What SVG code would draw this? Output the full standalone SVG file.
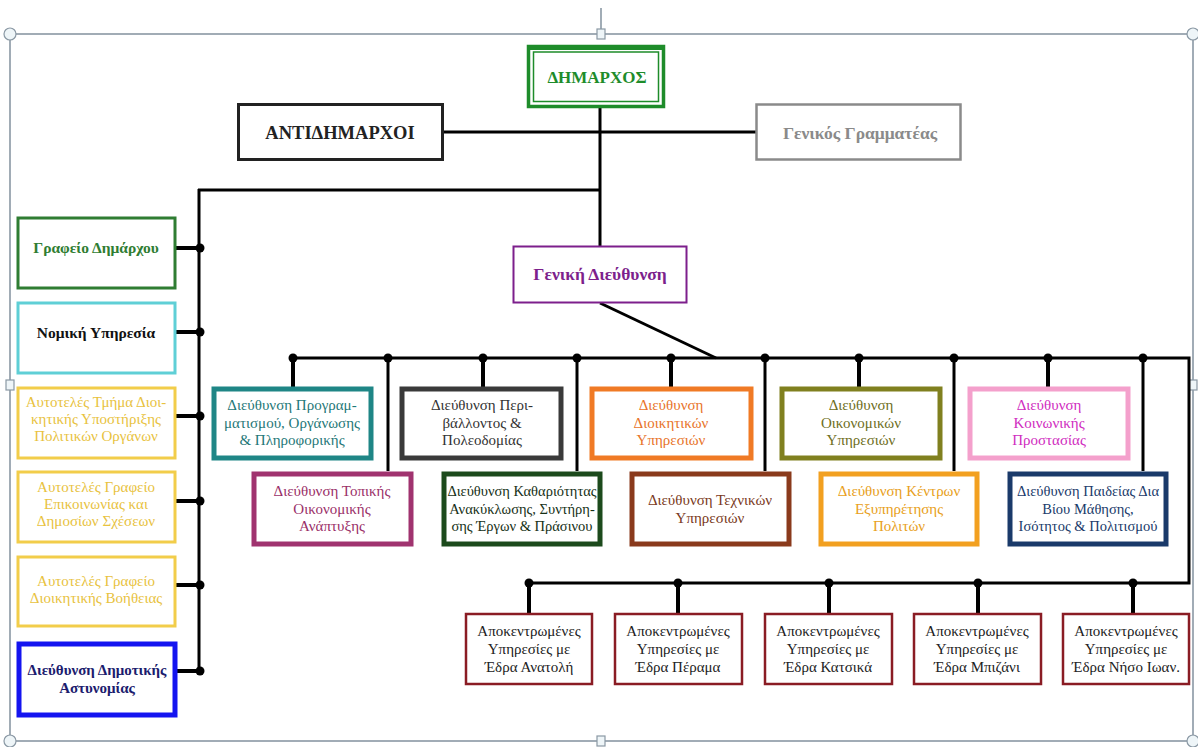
<svg xmlns="http://www.w3.org/2000/svg" width="1198" height="747" viewBox="0 0 1198 747">
<style>
text{font-family:"Liberation Serif","Times New Roman",serif;text-anchor:middle}
.b{font-weight:bold}
.r{font-size:15px}
.box{fill:#fff}
.ln{stroke:#000;stroke-width:3;fill:none}
.st{stroke:#000;stroke-width:4;fill:none}
.frame{stroke:#8a98a4;stroke-width:1.6;fill:none}
.h{fill:#eef5f8;stroke:#8a98a4;stroke-width:1.2}
</style>
<rect width="1198" height="747" fill="#fff"/>
<g id="frame">
<line class="frame" x1="601" y1="8" x2="601" y2="34"/>
<rect class="frame" x="10" y="34" width="1183" height="707"/>
<circle class="h" cx="10" cy="34" r="6"/>
<circle class="h" cx="1193" cy="34" r="6"/>
<circle class="h" cx="10" cy="741" r="6"/>
<circle class="h" cx="1193" cy="741" r="6"/>
<rect class="h" x="597" y="29" width="8" height="10"/>
<rect class="h" x="597" y="736" width="8" height="10"/>
<rect class="h" x="6" y="380" width="8" height="10"/>
<rect class="h" x="1189" y="380" width="8" height="10"/>
</g>
<g id="connectors">
<line class="ln" x1="600" y1="106" x2="600" y2="246"/>
<line class="ln" x1="443" y1="132" x2="756" y2="132"/>
<line class="ln" x1="198" y1="190" x2="600" y2="190"/>
<line class="ln" x1="199" y1="189" x2="199" y2="671"/>
<g class="st">
<line x1="175" y1="248" x2="200" y2="248"/>
<line x1="175" y1="332" x2="200" y2="332"/>
<line x1="175" y1="416" x2="200" y2="416"/>
<line x1="175" y1="501" x2="200" y2="501"/>
<line x1="175" y1="585" x2="200" y2="585"/>
<line x1="177" y1="671" x2="200" y2="671"/>
</g>
<g fill="#000">
<circle cx="200" cy="248" r="4.5"/><circle cx="200" cy="332" r="4.5"/><circle cx="200" cy="416" r="4.5"/>
<circle cx="200" cy="501" r="4.5"/><circle cx="200" cy="585" r="4.5"/><circle cx="200" cy="671" r="4.5"/>
</g>
<line class="ln" x1="600" y1="303" x2="716" y2="358"/>
<polyline class="ln" points="293,358 1189,358 1189,583 529,583"/>
<g class="st">
<line x1="293" y1="358" x2="293" y2="387"/>
<line x1="483" y1="358" x2="483" y2="387"/>
<line x1="671" y1="358" x2="671" y2="387"/>
<line x1="859" y1="358" x2="859" y2="387"/>
<line x1="1048" y1="358" x2="1048" y2="387"/>
</g>
<g class="ln">
<line x1="388" y1="358" x2="388" y2="471"/>
<line x1="577" y1="358" x2="577" y2="471"/>
<line x1="765" y1="358" x2="765" y2="471"/>
<line x1="954" y1="358" x2="954" y2="471"/>
<line x1="1143" y1="358" x2="1143" y2="471"/>
</g>
<g fill="#000">
<circle cx="293" cy="358" r="4.5"/><circle cx="388" cy="358" r="4.5"/><circle cx="483" cy="358" r="4.5"/>
<circle cx="577" cy="358" r="4.5"/><circle cx="671" cy="358" r="4.5"/><circle cx="765" cy="358" r="4.5"/>
<circle cx="859" cy="358" r="4.5"/><circle cx="954" cy="358" r="4.5"/><circle cx="1048" cy="358" r="4.5"/>
<circle cx="1143" cy="358" r="4.5"/>
</g>
<g class="st">
<line x1="529" y1="583" x2="529" y2="613"/>
<line x1="678" y1="583" x2="678" y2="613"/>
<line x1="829" y1="583" x2="829" y2="613"/>
<line x1="978" y1="583" x2="978" y2="613"/>
<line x1="1133" y1="583" x2="1133" y2="613"/>
</g>
<g fill="#000">
<circle cx="529" cy="583" r="4.5"/><circle cx="678" cy="583" r="4.5"/><circle cx="829" cy="583" r="4.5"/>
<circle cx="978" cy="583" r="4.5"/><circle cx="1133" cy="583" r="4.5"/>
</g>
</g>

<g id="dimarxos">
<rect class="box" x="528.5" y="46.5" width="135" height="60" stroke="#1e8c2a" stroke-width="3.5"/>
<rect x="533.5" y="52" width="125" height="49.5" fill="none" stroke="#1e8c2a" stroke-width="1.5"/>
<line x1="530" y1="48.5" x2="662" y2="48.5" stroke="#1e8c2a" stroke-width="3"/>
<text class="b" x="597" y="83" font-size="17" fill="#1e8c2a">ΔΗΜΑΡΧΟΣ</text>
</g>
<g id="antidimarxoi">
<rect class="box" x="238.5" y="104.5" width="204" height="55" stroke="#222" stroke-width="3"/>
<text class="b" x="340" y="139" font-size="18.5" fill="#222">ΑΝΤΙΔΗΜΑΡΧΟΙ</text>
</g>
<g id="genikos">
<rect class="box" x="756.5" y="104.5" width="204" height="55" stroke="#8a8a8a" stroke-width="2.5"/>
<text class="b" x="860" y="139" font-size="17.5" fill="#8a8a8a">Γενικός Γραμματέας</text>
</g>
<g id="geniki-dieythynsi">
<rect class="box" x="513.5" y="246.5" width="173" height="56" stroke="#7d1f8c" stroke-width="2"/>
<text class="b" x="600" y="280" font-size="17.5" fill="#7d1f8c">Γενική Διεύθυνση</text>
</g>

<g id="grafeio-dimarxou">
<rect class="box" x="18" y="218" width="157" height="70" stroke="#2f7d32" stroke-width="3"/>
<text class="b" x="96" y="253" font-size="15.5" fill="#2f7d32">Γραφείο Δημάρχου</text>
</g>
<g id="nomiki">
<rect class="box" x="18" y="303" width="157" height="70" stroke="#5fcfd6" stroke-width="3"/>
<text class="b" x="96" y="338" font-size="15.5" fill="#111">Νομική  Υπηρεσία</text>
</g>
<g id="tmima-politikon">
<rect class="box" x="18" y="388" width="157" height="70" stroke="#f2cd4a" stroke-width="3"/>
<text class="r" x="96" y="407" fill="#e8c23e"><tspan x="96">Αυτοτελές Τμήμα Διοι-</tspan><tspan x="96" dy="17">κητικής Υποστήριξης</tspan><tspan x="96" dy="17">Πολιτικών Οργάνων</tspan></text>
</g>
<g id="grafeio-epikoinonias">
<rect class="box" x="18" y="472" width="157" height="70" stroke="#f2cd4a" stroke-width="3"/>
<text class="r" x="96" y="492" fill="#e8c23e"><tspan x="96">Αυτοτελές Γραφείο</tspan><tspan x="96" dy="17">Επικοινωνίας και</tspan><tspan x="96" dy="17">Δημοσίων Σχέσεων</tspan></text>
</g>
<g id="grafeio-voitheias">
<rect class="box" x="18" y="557" width="157" height="69" stroke="#f2cd4a" stroke-width="3"/>
<text class="r" x="96" y="586" fill="#e8c23e"><tspan x="96">Αυτοτελές Γραφείο</tspan><tspan x="96" dy="17">Διοικητικής Βοήθειας</tspan></text>
</g>
<g id="astynomia">
<rect class="box" x="19" y="644" width="156" height="71" stroke="#1414f0" stroke-width="5"/>
<text class="b" x="97" y="675" font-size="15" fill="#1c1c6e"><tspan x="97">Διεύθυνση Δημοτικής</tspan><tspan x="97" dy="18">Αστυνομίας</tspan></text>
</g>

<g id="d-programmatismou">
<rect class="box" x="214" y="389" width="157" height="69" stroke="#1f8686" stroke-width="5"/>
<text class="r" x="292" y="410" fill="#1f7878"><tspan x="292">Διεύθυνση Προγραμ-</tspan><tspan x="292" dy="17.5">ματισμού, Οργάνωσης</tspan><tspan x="292" dy="17.5">&amp; Πληροφορικής</tspan></text>
</g>
<g id="d-perivallontos">
<rect class="box" x="402" y="389" width="159" height="69" stroke="#3a3a3a" stroke-width="5"/>
<text class="r" x="482" y="410" fill="#333"><tspan x="482">Διεύθυνση Περι-</tspan><tspan x="482" dy="17.5">βάλλοντος &amp;</tspan><tspan x="482" dy="17.5">Πολεοδομίας</tspan></text>
</g>
<g id="d-dioikitikon">
<rect class="box" x="592" y="389" width="159" height="69" stroke="#f07a25" stroke-width="5"/>
<text class="r" x="671" y="410" fill="#e8742a"><tspan x="671">Διεύθυνση</tspan><tspan x="671" dy="17.5">Διοικητικών</tspan><tspan x="671" dy="17.5">Υπηρεσιών</tspan></text>
</g>
<g id="d-oikonomikon">
<rect class="box" x="782" y="389" width="158" height="69" stroke="#80801f" stroke-width="5"/>
<text class="r" x="861" y="410" fill="#6e6e1c"><tspan x="861">Διεύθυνση</tspan><tspan x="861" dy="17.5">Οικονομικών</tspan><tspan x="861" dy="17.5">Υπηρεσιών</tspan></text>
</g>
<g id="d-koinonikis">
<rect class="box" x="970" y="389" width="158" height="69" stroke="#f4a0cc" stroke-width="5"/>
<text class="r" x="1049" y="410" fill="#d02cc0"><tspan x="1049">Διεύθυνση</tspan><tspan x="1049" dy="17.5">Κοινωνικής</tspan><tspan x="1049" dy="17.5">Προστασίας</tspan></text>
</g>

<g id="d-topikis">
<rect class="box" x="254" y="474" width="157" height="70" stroke="#a0336f" stroke-width="5"/>
<text class="r" x="332" y="496" fill="#9a2f68"><tspan x="332">Διεύθυνση Τοπικής</tspan><tspan x="332" dy="17.5">Οικονομικής</tspan><tspan x="332" dy="17.5">Ανάπτυξης</tspan></text>
</g>
<g id="d-kathariotitas">
<rect class="box" x="444" y="474" width="156" height="70" stroke="#1c4a1c" stroke-width="5"/>
<text x="522" y="496" font-size="14.5" fill="#163016"><tspan x="522">Διεύθυνση Καθαριότητας</tspan><tspan x="522" dy="17.5">Ανακύκλωσης, Συντήρη-</tspan><tspan x="522" dy="17.5">σης Έργων &amp; Πράσινου</tspan></text>
</g>
<g id="d-texnikon">
<rect class="box" x="632" y="474" width="157" height="70" stroke="#8a3a1c" stroke-width="5"/>
<text class="r" x="710" y="505" fill="#7a3a22"><tspan x="710">Διεύθυνση Τεχνικών</tspan><tspan x="710" dy="18">Υπηρεσιών</tspan></text>
</g>
<g id="d-kentron">
<rect class="box" x="821" y="474" width="156" height="70" stroke="#f2a020" stroke-width="5"/>
<text class="r" x="899" y="496" fill="#e8a020"><tspan x="899">Διεύθυνση Κέντρων</tspan><tspan x="899" dy="17.5">Εξυπηρέτησης</tspan><tspan x="899" dy="17.5">Πολιτών</tspan></text>
</g>
<g id="d-paideias">
<rect class="box" x="1010" y="474" width="156" height="70" stroke="#1a3a6a" stroke-width="5"/>
<text x="1088" y="496" font-size="14.5" fill="#1a3a6a"><tspan x="1088">Διεύθυνση Παιδείας Δια</tspan><tspan x="1088" dy="17.5">Βίου Μάθησης,</tspan><tspan x="1088" dy="17.5">Ισότητος &amp; Πολιτισμού</tspan></text>
</g>

<g id="apok-anatoli">
<rect class="box" x="466" y="614" width="126" height="70" stroke="#8a1c24" stroke-width="2.5"/>
<text class="r" x="529" y="636" fill="#222"><tspan x="529">Αποκεντρωμένες</tspan><tspan x="529" dy="18">Υπηρεσίες με</tspan><tspan x="529" dy="18">Έδρα Ανατολή</tspan></text>
</g>
<g id="apok-perama">
<rect class="box" x="615" y="614" width="127" height="70" stroke="#8a1c24" stroke-width="2.5"/>
<text class="r" x="678" y="636" fill="#222"><tspan x="678">Αποκεντρωμένες</tspan><tspan x="678" dy="18">Υπηρεσίες με</tspan><tspan x="678" dy="18">Έδρα Πέραμα</tspan></text>
</g>
<g id="apok-katsika">
<rect class="box" x="765" y="614" width="127" height="70" stroke="#8a1c24" stroke-width="2.5"/>
<text class="r" x="828" y="636" fill="#222"><tspan x="828">Αποκεντρωμένες</tspan><tspan x="828" dy="18">Υπηρεσίες με</tspan><tspan x="828" dy="18">Έδρα Κατσικά</tspan></text>
</g>
<g id="apok-mpizani">
<rect class="box" x="914" y="614" width="127" height="70" stroke="#8a1c24" stroke-width="2.5"/>
<text class="r" x="977" y="636" fill="#222"><tspan x="977">Αποκεντρωμένες</tspan><tspan x="977" dy="18">Υπηρεσίες με</tspan><tspan x="977" dy="18">Έδρα Μπιζάνι</tspan></text>
</g>
<g id="apok-niso">
<rect class="box" x="1063" y="614" width="126" height="70" stroke="#8a1c24" stroke-width="2.5"/>
<text class="r" x="1126" y="636" fill="#222"><tspan x="1126">Αποκεντρωμένες</tspan><tspan x="1126" dy="18">Υπηρεσίες με</tspan><tspan x="1126" dy="18">Έδρα Νήσο Ιωαν.</tspan></text>
</g>
</svg>
